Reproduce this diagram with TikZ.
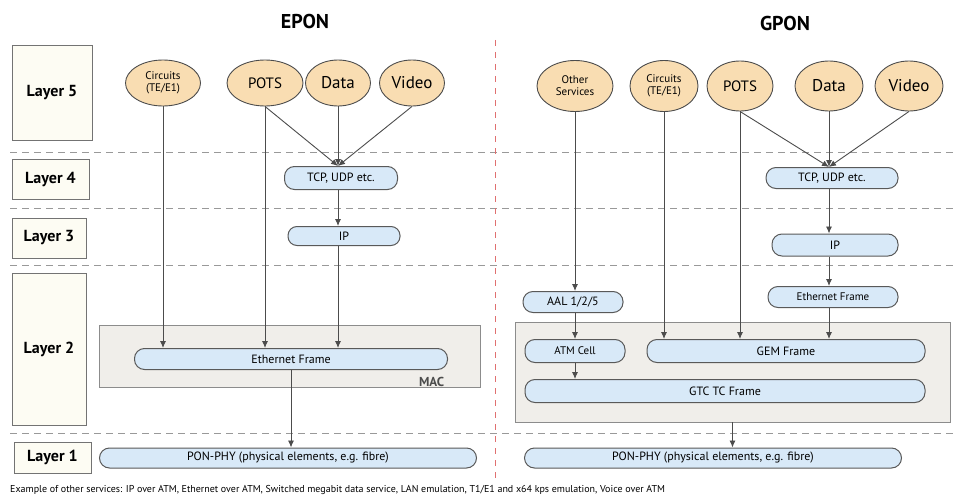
\documentclass[tikz,border=0pt]{standalone}
\usepackage{fontspec}
\setmainfont{PT Sans}
\usetikzlibrary{arrows.meta,shapes.geometric}

\definecolor{svcfill}{HTML}{F9DDB2}
\definecolor{pillfill}{HTML}{D8E9F8}
\definecolor{grpfill}{HTML}{F0EEEA}
\definecolor{layerfill}{HTML}{FDFCF3}
\definecolor{sepred}{HTML}{E07070}

\begin{document}
\begin{tikzpicture}[x=1pt,y=-1pt,>={Latex[length=7pt,width=6pt]},
        layer node/.style={draw=black!55,fill=layerfill,line width=1pt,inner sep=0pt,
            font=\bfseries\fontsize{16}{18}\selectfont},
        svc node/.style={ellipse,draw=black!70,fill=svcfill,line width=0.9pt,inner sep=0pt,
            align=center},
        pill node/.style={draw=black!65,fill=pillfill,rounded corners=10pt,line width=1pt,
            inner sep=0pt,font=\fontsize{12}{14}\selectfont},
        group node/.style={draw=black!45,fill=grpfill,line width=0.8pt,inner sep=0pt},
        link/.style={->,draw=black!70,line width=0.9pt},
        sep/.style={dash pattern=on 7pt off 5pt,draw=black!40,line width=0.8pt}]
    \useasboundingbox (0,0) rectangle (953,503);
    % separators
    \foreach \y in {152,208,265,433}
        \draw[sep] (10,\y) -- (953,\y);
    \draw[dash pattern=on 6pt off 6pt,draw=sepred,line width=0.8pt] (495,40) -- (495,482);
    % titles
    \node[font=\bfseries\fontsize{20}{22}\selectfont] (epon) at (305,22) {EPON};
    \node[font=\bfseries\fontsize{20}{22}\selectfont] (gpon) at (785,24) {GPON};
    % layers
    \node[layer node,minimum width=80,minimum height=94] (L5) at (52,93) {Layer 5};
    \node[layer node,minimum width=77,minimum height=40] (L4) at (50.5,179) {Layer 4};
    \node[layer node,minimum width=74,minimum height=40] (L3) at (49,238) {Layer 3};
    \node[layer node,minimum width=74,minimum height=152] (L2) at (49,349) {Layer 2};
    \node[layer node,minimum width=77,minimum height=31] (L1) at (52.5,457.5) {Layer 1};
    % EPON
    \node[group node,minimum width=381,minimum height=62] (eMac) at (289.5,356) {};
    \node[anchor=south east,font=\bfseries\fontsize{13}{15}\selectfont,text=black!70,
        inner sep=0pt] (eMacL) at ([xshift=-36pt,yshift=1pt]eMac.south east) {MAC};
    \node[svc node,minimum width=75,minimum height=46,font=\fontsize{11}{12}\selectfont] (eCir) at (163,83) {Circuits\\(TE/E1)};
    \node[svc node,minimum width=76,minimum height=46,font=\fontsize{15}{17}\selectfont] (ePots) at (265,83) {POTS};
    \node[svc node,minimum width=65,minimum height=46,font=\fontsize{17}{19}\selectfont] (eData) at (338,83) {Data};
    \node[svc node,minimum width=65,minimum height=46,font=\fontsize{17}{19}\selectfont] (eVid) at (412,83) {Video};
    \node[pill node,minimum width=113,minimum height=23] (eTcp) at (341,178) {TCP, UDP etc.};
    \node[pill node,minimum width=112,minimum height=19,rounded corners=9pt] (eIp) at (344,236) {IP};
    \node[pill node,minimum width=313,minimum height=21] (eEth) at (291,359) {Ethernet Frame};
    \node[pill node,minimum width=377,minimum height=20] (ePhy) at (288,458) {PON-PHY (physical elements, e.g. fibre)};
    % GPON
    \node[group node,minimum width=435,minimum height=100] (gGrp) at (732.5,372) {};
    \node[svc node,minimum width=76,minimum height=51,font=\fontsize{11}{12}\selectfont] (gOth) at (575,86) {Other\\Services};
    \node[svc node,minimum width=68,minimum height=51,font=\fontsize{11}{12}\selectfont] (gCir) at (664,86) {Circuits\\(TE/E1)};
    \node[svc node,minimum width=66,minimum height=50,font=\fontsize{15}{17}\selectfont] (gPots) at (740,86) {POTS};
    \node[svc node,minimum width=68,minimum height=50,font=\fontsize{17}{19}\selectfont] (gData) at (829,86) {Data};
    \node[svc node,minimum width=68,minimum height=50,font=\fontsize{17}{19}\selectfont] (gVid) at (909,86) {Video};
    \node[pill node,minimum width=132,minimum height=21] (gTcp) at (832,178) {TCP, UDP etc.};
    \node[pill node,minimum width=126,minimum height=22] (gIp) at (835,245) {IP};
    \node[pill node,minimum width=130,minimum height=21,font=\fontsize{11}{13}\selectfont] (gEth) at (833,297) {Ethernet Frame};
    \node[pill node,minimum width=100,minimum height=21] (gAal) at (573,302) {AAL 1/2/5};
    \node[pill node,minimum width=100,minimum height=23,font=\fontsize{11}{13}\selectfont] (gAtm) at (575,351) {ATM Cell};
    \node[pill node,minimum width=278,minimum height=23] (gGem) at (786,351) {GEM Frame};
    \node[pill node,minimum width=400,minimum height=23] (gGtc) at (725,391) {GTC TC Frame};
    \node[pill node,minimum width=377,minimum height=20] (gPhy) at (713,458) {PON-PHY (physical elements, e.g. fibre)};
    % note
    \node[anchor=west,inner sep=0pt,font=\fontsize{10}{12}\selectfont] (note) at (10,490)
        {Example of other services: IP over ATM, Ethernet over ATM, Switched megabit data service, LAN emulation, T1/E1 and x64 kps emulation, Voice over ATM};
    % EPON links
    \path
        (eCir.south) edge[link] (eCir.south |- eEth.north)
        (ePots.south) edge[link] (ePots.south |- eEth.north)
        (ePots.south) edge[link] (eData.south |- eTcp.north)
        (eData.south) edge[link] (eData.south |- eTcp.north)
        (eVid.south) edge[link] (eData.south |- eTcp.north)
        (eData.south |- eTcp.south) edge[link] (eData.south |- eIp.north)
        (eData.south |- eIp.south) edge[link] (eData.south |- eEth.north)
        (eEth.south) edge[link] (eEth.south |- ePhy.north);
    % GPON links
    \path
        (gOth.south) edge[link] (gOth.south |- gAal.north)
        (gOth.south |- gAal.south) edge[link] (gOth.south |- gAtm.north)
        (gOth.south |- gAtm.south) edge[link] (gOth.south |- gGtc.north)
        (gCir.south) edge[link] (gCir.south |- gGem.north)
        (gPots.south) edge[link] (gPots.south |- gGem.north)
        (gPots.south) edge[link] (gData.south |- gTcp.north)
        (gData.south) edge[link] (gData.south |- gTcp.north)
        (gVid.south) edge[link] (gData.south |- gTcp.north)
        (gData.south |- gTcp.south) edge[link] (gData.south |- gIp.north)
        (gData.south |- gIp.south) edge[link] (gData.south |- gEth.north)
        (gData.south |- gEth.south) edge[link] (gData.south |- gGem.north)
        (gGrp.south) edge[link] (gGrp.south |- gPhy.north);
\end{tikzpicture}
\end{document}
